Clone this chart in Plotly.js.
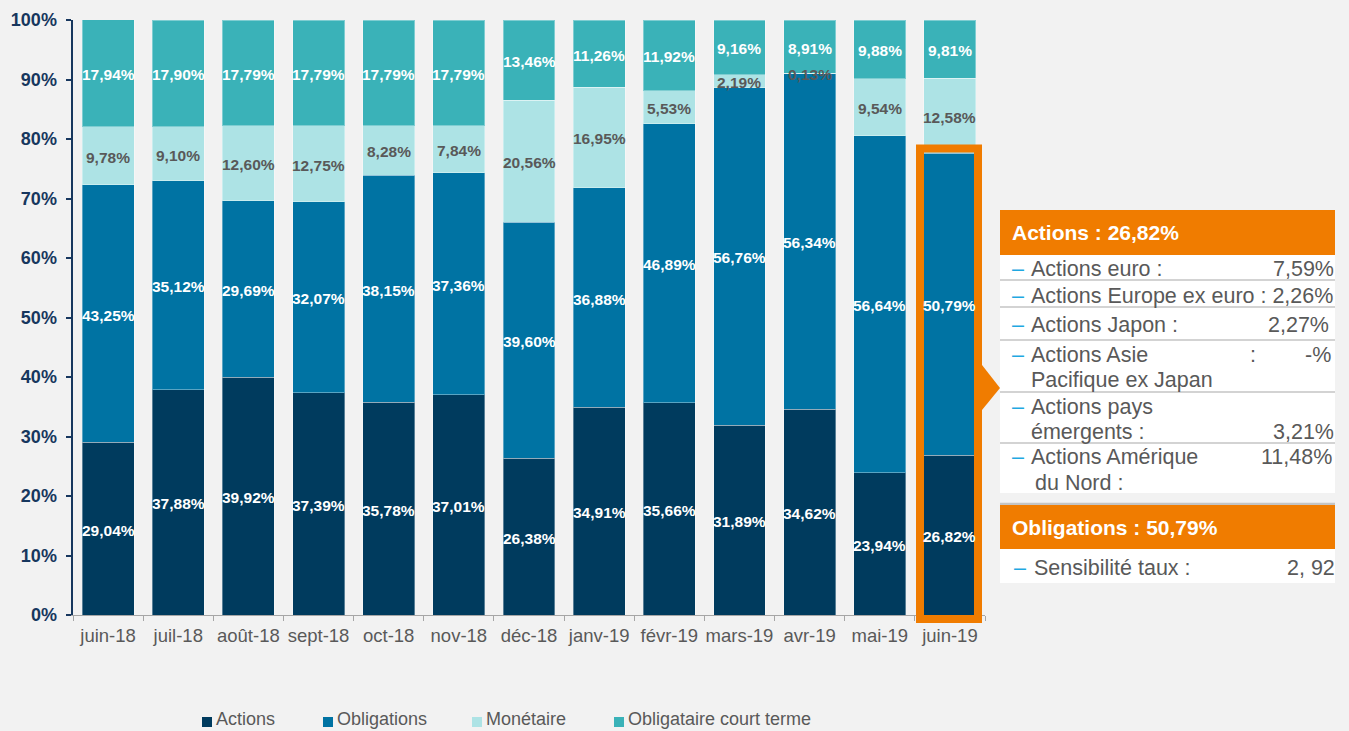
<!DOCTYPE html>
<html><head><meta charset="utf-8">
<script src="https://cdn.plot.ly/plotly-3.0.1.min.js"></script>
<style>html,body{margin:0;padding:0;background:#f2f2f2;}#chart{width:1349px;height:731px;}</style>
</head><body><div id="chart"></div>
<script>
// ---- data ----
const months = ['juin-18','juil-18','août-18','sept-18','oct-18','nov-18','déc-18','janv-19','févr-19','mars-19','avr-19','mai-19','juin-19'];
const actions     = [29.04, 37.88, 39.92, 37.39, 35.78, 37.01, 26.38, 34.91, 35.66, 31.89, 34.62, 23.94, 26.82];
const obligations = [43.25, 35.12, 29.69, 32.07, 38.15, 37.36, 39.60, 36.88, 46.89, 56.76, 56.34, 56.64, 50.79];
const monetaire   = [9.78, 9.10, 12.60, 12.75, 8.28, 7.84, 20.56, 16.95, 5.53, 2.19, 0.13, 9.54, 12.58];
const courtTerme  = [17.94, 17.90, 17.79, 17.79, 17.79, 17.79, 13.46, 11.26, 11.92, 9.16, 8.91, 9.88, 9.81];
const seriesNames = ['Actions', 'Obligations', 'Monétaire', 'Obligataire court terme'];
const yTickVals = [0, 10, 20, 30, 40, 50, 60, 70, 80, 90, 100];
const yTickText = ['0%','10%','20%','30%','40%','50%','60%','70%','80%','90%','100%'];

const actionsHeader = 'Actions : 26,82%';
const actionsRowLabels = ['Actions euro :', 'Actions Europe ex euro :', 'Actions Japon :', 'Actions Asie', 'Pacifique ex Japan', 'Actions pays', 'émergents :', 'Actions Amérique', 'du Nord :'];
const actionsRowValues = ['7,59%', '2,26%', '2,27%', '-%', '3,21%', '11,48%'];
const obligHeader = 'Obligations : 50,79%';
const obligRowLabels = ['Sensibilité taux :'];
const obligRowValues = ['2, 92'];

// ---- styling ----
const colors = ['#003b5e', '#0073a3', '#ade3e5', '#3ab2b8'];
const labelColors = ['#ffffff', '#ffffff', '#595959', '#ffffff'];
const FONT = 'Liberation Sans, Arial, sans-serif';
const ORANGE = '#f07c00';
const fmt = v => v.toFixed(2).replace('.', ',') + '%';

const seriesValues = [actions, obligations, monetaire, courtTerme];
const traces = seriesValues.map((vals, i) => ({
  type: 'bar', x: months, y: vals, name: seriesNames[i],
  marker: {color: colors[i], line: {color: 'rgba(255,255,255,0.35)', width: 1}},
  textposition: 'none', hoverinfo: 'skip', showlegend: false
}));

const annotations = [];
// data labels, centred in each stacked segment (placed via the data axes)
const base = months.map(() => 0);
seriesValues.forEach((vals, i) => {
  vals.forEach((v, j) => {
    annotations.push({xref: 'x', yref: 'y', x: months[j], y: base[j] + v / 2, yshift: -1.5, text: fmt(v),
      showarrow: false, xanchor: 'center', yanchor: 'middle', borderpad: 0,
      font: {family: FONT, size: 15.5, color: labelColors[i], weight: 'bold'}});
    base[j] += v;
  });
});

// plot area in px: x 73..985, y 20..615
const L = 73, R = 985, T = 20, B = 615;
const P = x => (x - L) / (R - L);
const Q = y => (B - y) / (B - T);

const shapes = [];
function rect(x0, y0, x1, y1, fill, line) {
  shapes.push({type: 'rect', xref: 'paper', yref: 'paper', x0: P(x0), x1: P(x1), y0: Q(y1), y1: Q(y0),
    fillcolor: fill || 'rgba(0,0,0,0)', line: line || {width: 0}, layer: 'above'});
}
function hline(y, x0, x1, color, w) {
  shapes.push({type: 'line', xref: 'paper', yref: 'paper', x0: P(x0), x1: P(x1), y0: Q(y), y1: Q(y),
    line: {color: color, width: w}, layer: 'above'});
}
function txt(t, x, y, anchor, size, color, bold) {
  annotations.push({xref: 'paper', yref: 'paper', x: P(x), y: Q(y), text: t, showarrow: false,
    xanchor: anchor, yanchor: 'middle', borderpad: 0, borderwidth: 0,
    font: {family: FONT, size: size, color: color, weight: bold ? 'bold' : 'normal'}});
}

// highlight frame on last bar
rect(920, 148.5, 978, 619, null, {color: ORANGE, width: 8});
// arrow
shapes.push({type: 'path', xref: 'paper', yref: 'paper',
  path: `M ${P(982)},${Q(365)} L ${P(1000)},${Q(388)} L ${P(982)},${Q(410)} Z`,
  fillcolor: ORANGE, line: {width: 0}, layer: 'above'});

// Actions panel
const PX0 = 1000, PX1 = 1335;
const FS = 21.5;
rect(PX0, 210, PX1, 255, ORANGE);
rect(PX0, 255, PX1, 493, '#ffffff');
[280, 307, 340, 392, 443].forEach(y => hline(y, PX0, PX1, '#c4c4c4', 1.5));
txt(actionsHeader, 1012, 233, 'left', 21, '#ffffff', true);
const GRAY = '#595959', DASH = '#1fa8e1';
const LX = 1031, VX = 1334;
const dashYs = [269, 296, 325, 355, 407, 457];
dashYs.forEach(y => txt('–', 1012, y, 'left', FS, DASH, false));
txt(actionsRowLabels[0], LX, 269, 'left', FS, GRAY);
txt(actionsRowValues[0], VX, 269, 'right', FS, GRAY);
txt(actionsRowLabels[1] + ' ' + actionsRowValues[1], LX, 296, 'left', FS, GRAY);
txt(actionsRowLabels[2], LX, 325, 'left', FS, GRAY);
txt(actionsRowValues[2], 1329, 325, 'right', FS, GRAY);
txt(actionsRowLabels[3], LX, 355, 'left', FS, GRAY);
txt(':', 1253, 355, 'center', FS, GRAY);
txt(actionsRowValues[3], 1331, 355, 'right', FS, GRAY);
txt(actionsRowLabels[4], LX, 380, 'left', FS, GRAY);
txt(actionsRowLabels[5], LX, 407, 'left', FS, GRAY);
txt(actionsRowLabels[6], LX, 432, 'left', FS, GRAY);
txt(actionsRowValues[4], VX, 432, 'right', FS, GRAY);
txt(actionsRowLabels[7], LX, 457, 'left', FS, GRAY);
txt(actionsRowValues[5], 1332, 457, 'right', FS, GRAY);
txt(actionsRowLabels[8], 1035, 483, 'left', FS, GRAY);

// Obligations panel
hline(504, PX0, PX1, '#c4c4c4', 2.5);
rect(PX0, 505, PX1, 549, ORANGE);
rect(PX0, 549, PX1, 583, '#ffffff');
txt(obligHeader, 1012, 527, 'left', 21, '#ffffff', true);
txt('–', 1014, 568, 'left', FS, DASH);
txt(obligRowLabels[0], 1034, 568, 'left', FS, GRAY);
txt(obligRowValues[0], 1335, 568, 'right', FS, GRAY);

// manual legend
const legX = [202, 323, 472, 614];
seriesNames.forEach((n, i) => {
  rect(legX[i], 717, legX[i] + 10, 727, colors[i]);
  txt(n, legX[i] + 14, 718.5, 'left', 18, GRAY);
});

const layout = {
  width: 1349, height: 731,
  margin: {l: L, r: 1349 - R, t: T, b: 731 - B, pad: 0},
  paper_bgcolor: '#f2f2f2', plot_bgcolor: '#f2f2f2',
  barmode: 'stack', bargap: 0.26,
  font: {family: FONT},
  showlegend: false,
  xaxis: {
    type: 'category', showgrid: false, zeroline: false,
    showline: true, linecolor: '#a6a6a6', linewidth: 1,
    ticks: 'outside', ticklen: 5, tickcolor: '#a6a6a6', tickson: 'boundaries',
    tickangle: 0, ticklabelstandoff: 4,
    tickfont: {family: FONT, size: 18.5, color: GRAY}, fixedrange: true
  },
  yaxis: {
    range: [0, 100], showgrid: false, zeroline: false,
    showline: true, linecolor: '#17375e', linewidth: 2.5,
    ticks: 'outside', ticklen: 5, tickwidth: 2, tickcolor: '#17375e',
    tickvals: yTickVals, ticktext: yTickText, ticklabelstandoff: 5,
    tickfont: {family: FONT, size: 18, color: '#17375e', weight: 'bold'}, fixedrange: true
  },
  shapes: shapes, annotations: annotations
};

Plotly.newPlot('chart', traces, layout, {displayModeBar: false, staticPlot: true});
</script></body></html>
